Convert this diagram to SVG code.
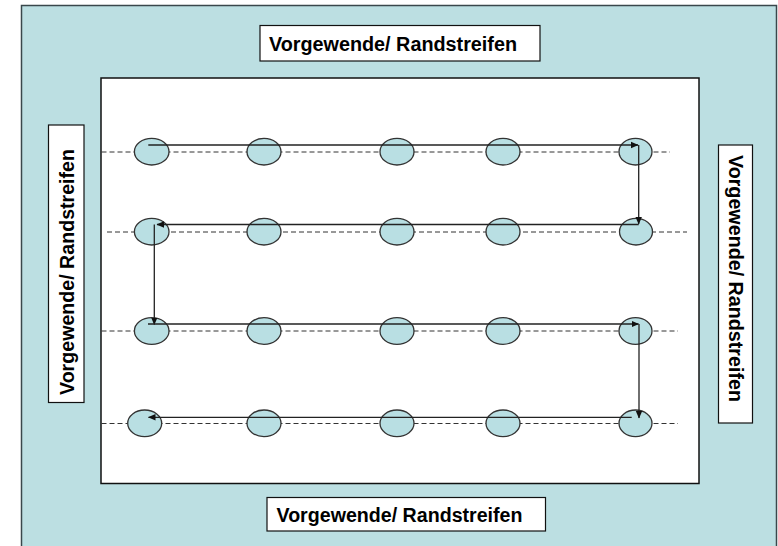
<svg xmlns="http://www.w3.org/2000/svg" width="778" height="546" viewBox="0 0 778 546">
<defs>
<style>
.lbl{fill:#fff;stroke:#111;stroke-width:1.2}
.t{font-family:"Liberation Sans",Arial,sans-serif;font-weight:bold;font-size:20px;fill:#000}
.dash{stroke:#333;stroke-width:1;stroke-dasharray:5 3;fill:none}
.node{fill:#b9dfe3;stroke:#333;stroke-width:1.3}
.arr{stroke:#222;stroke-width:1.3;fill:none;marker-end:url(#ah)}
</style>
<marker id="ah" markerWidth="8" markerHeight="8" refX="7" refY="4" orient="auto" markerUnits="userSpaceOnUse">
<path d="M0,0.8 L7.5,4 L0,7.2 Z" fill="#111"/>
</marker>
</defs>
<rect x="0" y="0" width="778" height="546" fill="#fff"/>
<rect id="outer" x="21.5" y="5.5" width="755" height="545" fill="#bcdfe2" stroke="#3a474b" stroke-width="1.5"/>
<rect id="field" x="101" y="78" width="598" height="405.5" fill="#fff" stroke="#111" stroke-width="1.5"/>

<g id="label-top">
<rect class="lbl" x="260" y="25.5" width="280" height="35.5"/>
<text class="t" x="269" y="50.5" textLength="248" lengthAdjust="spacingAndGlyphs">Vorgewende/ Randstreifen</text>
</g>
<g id="label-bottom">
<rect class="lbl" x="267" y="497.5" width="278.5" height="33.5"/>
<text class="t" x="276.5" y="521.5" textLength="246" lengthAdjust="spacingAndGlyphs">Vorgewende/ Randstreifen</text>
</g>
<g id="label-left">
<rect class="lbl" x="48.5" y="125" width="35.5" height="277.5"/>
<text class="t" transform="translate(73.5,395) rotate(-90)" x="0" y="0" textLength="246" lengthAdjust="spacingAndGlyphs">Vorgewende/ Randstreifen</text>
</g>
<g id="label-right">
<rect class="lbl" x="718.5" y="145" width="34" height="278"/>
<text class="t" transform="translate(728.5,155) rotate(90)" x="0" y="0" textLength="247" lengthAdjust="spacingAndGlyphs">Vorgewende/ Randstreifen</text>
</g>

<g id="rows">
<line class="dash" x1="101.5" y1="152" x2="670" y2="152"/>
<line class="dash" x1="107" y1="232" x2="687" y2="232"/>
<line class="dash" x1="101.5" y1="331" x2="678" y2="331"/>
<line class="dash" x1="101.5" y1="423.5" x2="678" y2="423.5"/>
</g>

<g id="r1c1"><ellipse class="node" cx="151.7" cy="151.7" rx="17.3" ry="13.3"/></g>
<g id="r1c2"><ellipse class="node" cx="264" cy="151.7" rx="17" ry="13.3"/></g>
<g id="r1c3"><ellipse class="node" cx="397" cy="151.7" rx="17" ry="13.3"/></g>
<g id="r1c4"><ellipse class="node" cx="503" cy="151.7" rx="17" ry="13.3"/></g>
<g id="r1c5"><ellipse class="node" cx="635.5" cy="151.7" rx="16.5" ry="13.3"/></g>

<g id="r2c1"><ellipse class="node" cx="151.7" cy="231.7" rx="17.3" ry="13.3"/></g>
<g id="r2c2"><ellipse class="node" cx="264" cy="231.7" rx="17" ry="13.3"/></g>
<g id="r2c3"><ellipse class="node" cx="397" cy="231.7" rx="17" ry="13.3"/></g>
<g id="r2c4"><ellipse class="node" cx="503" cy="231.7" rx="17" ry="13.3"/></g>
<g id="r2c5"><ellipse class="node" cx="636" cy="231.7" rx="16.5" ry="13.3"/></g>

<g id="r3c1"><ellipse class="node" cx="151.7" cy="331" rx="17.3" ry="13.3"/></g>
<g id="r3c2"><ellipse class="node" cx="264" cy="331" rx="17" ry="13.3"/></g>
<g id="r3c3"><ellipse class="node" cx="397" cy="331" rx="17" ry="13.3"/></g>
<g id="r3c4"><ellipse class="node" cx="503" cy="331" rx="17" ry="13.3"/></g>
<g id="r3c5"><ellipse class="node" cx="635.5" cy="331" rx="16.5" ry="13.3"/></g>

<g id="r4c1"><ellipse class="node" cx="144.7" cy="423.3" rx="17" ry="13.3"/></g>
<g id="r4c2"><ellipse class="node" cx="264" cy="423.3" rx="17" ry="13.3"/></g>
<g id="r4c3"><ellipse class="node" cx="397" cy="423.3" rx="17" ry="13.3"/></g>
<g id="r4c4"><ellipse class="node" cx="503" cy="423.3" rx="17" ry="13.3"/></g>
<g id="r4c5"><ellipse class="node" cx="635.5" cy="423.3" rx="16.5" ry="13.3"/></g>

<g id="connectors">
<line class="arr" x1="148.3" y1="145" x2="638" y2="145"/>
<line class="arr" x1="638.7" y1="145" x2="638.7" y2="224"/>
<line class="arr" x1="638.7" y1="224.5" x2="157" y2="224.5"/>
<line class="arr" x1="154.3" y1="224.5" x2="154.3" y2="324.5"/>
<line class="arr" x1="148" y1="324" x2="638.5" y2="324"/>
<line class="arr" x1="639" y1="324" x2="639" y2="418"/>
<line class="arr" x1="631.7" y1="417.3" x2="148.5" y2="417.3"/>
</g>
</svg>
